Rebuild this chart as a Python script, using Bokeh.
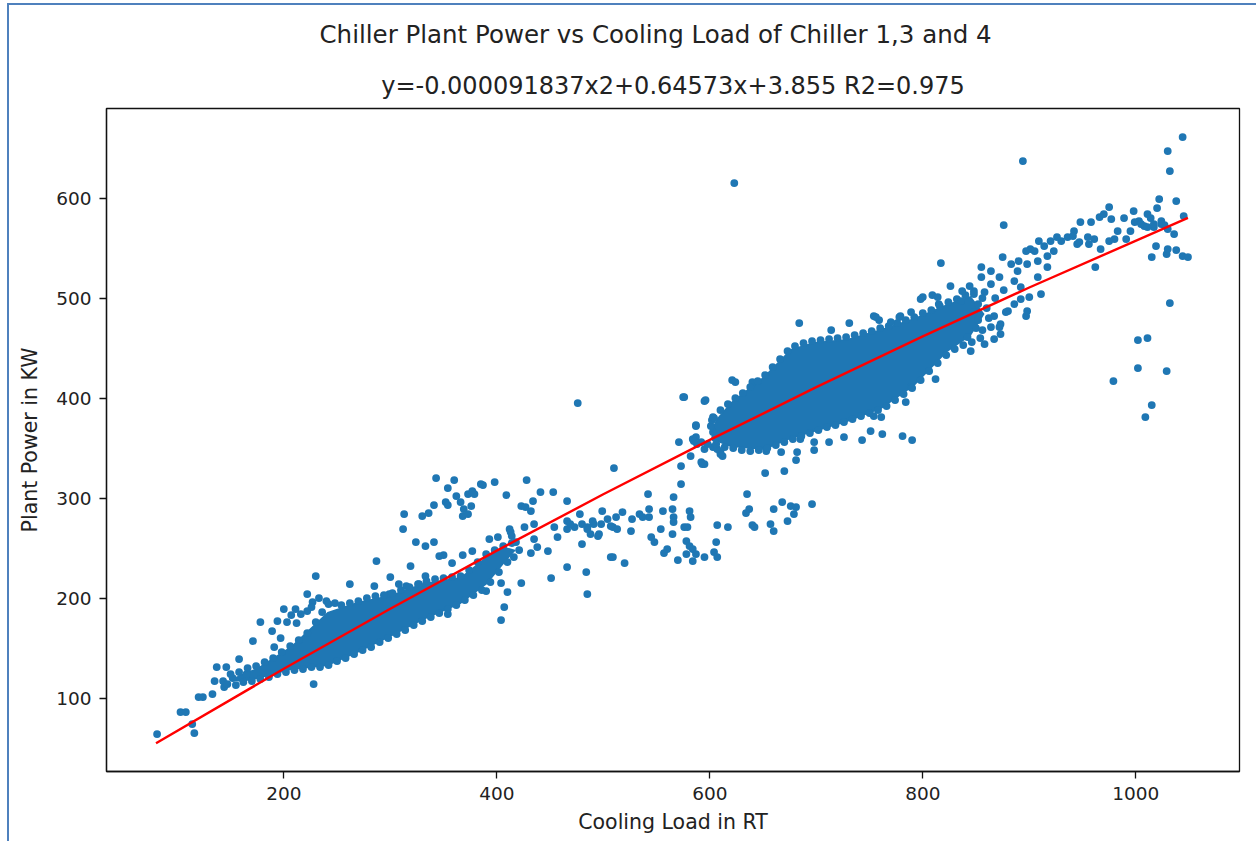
from bokeh.plotting import figure
from bokeh.models import Range1d, FixedTicker, Title
from bokeh.layouts import column
from bokeh.embed import file_html
from bokeh.resources import INLINE

TITLE = "Chiller Plant Power vs Cooling Load of Chiller 1,3 and 4"
SUBTITLE = "y=-0.000091837x2+0.64573x+3.855 R2=0.975"
X_LABEL = "Cooling Load in RT"
Y_LABEL = "Plant Power in KW"
x_ticks = [200, 400, 600, 800, 1000]
y_ticks = [100, 200, 300, 400, 500, 600]

# fitted curve
fit_load_rt = [80, 200, 300, 400, 500, 600, 700, 800, 900, 1049]
fit_power_kw = [54.9, 129.3, 189.3, 247.5, 303.8, 358.2, 410.9, 461.7, 510.6, 580.2]

# solid (saturated) cores of the two point clouds
low_core_rt = [150, 160, 175, 207, 241, 269, 300, 331, 366, 391, 408, 418]
low_core_bottom = [118, 116, 119, 128, 132, 145, 161, 178, 194, 214, 236, 248]
low_core_top = [118, 124, 130, 152, 186, 196, 203, 215, 221, 242, 251, 248]

high_core_rt = [603, 607, 620, 651, 676, 698, 729, 761, 792, 823, 845, 858]
high_core_bottom = [366, 356, 351, 348, 359, 366, 376, 389, 412, 446, 462, 484]
high_core_top = [372, 380, 396, 422, 449, 456, 459, 469, 480, 494, 502, 484]

# individual points (cooling load RT, plant power kW)
low_points = [
    (81, 64), (103, 86), (108, 86), (114, 74), (116, 65), (120, 101), (124, 101), (133, 104),
    (135, 117), (137, 131), (146, 131), (144, 111), (158, 139), (171, 157), (178, 176),
    (200, 189), (211, 189), (222, 204), (230, 222), (227, 196), (222, 187), (194, 177),
    (203, 176), (212, 175), (189, 167), (197, 160), (191, 151), (228, 114), (262, 214),
    (287, 237), (285, 212), (300, 221), (299, 204), (319, 232), (308, 214), (315, 212),
    (327, 214), (333, 222), (324, 256), (333, 252), (341, 256), (346, 242), (313, 284),
    (312, 269), (330, 282), (336, 285), (341, 293), (343, 320), (360, 318), (354, 310),
    (352, 296), (354, 293), (362, 302), (366, 296), (369, 289), (368, 282), (373, 284),
    (376, 292), (373, 304), (377, 307), (379, 304), (385, 314), (387, 313), (398, 316),
    (409, 303), (350, 243), (358, 235), (368, 243), (377, 247), (393, 259), (401, 261),
    (412, 269), (413, 266), (404, 215), (410, 206), (407, 191), (404, 178), (390, 207),
    (354, 184), (233, 200), (240, 197), (226, 191), (216, 184), (207, 183),
    (152, 120), (143, 117), (165, 124), (418, 256), (421, 248), (416, 241), (414, 262),
]
low_lower_edge = [
    (147, 114), (155, 113), (162, 116), (170, 117), (178, 119), (186, 121), (194, 124),
    (202, 126), (210, 128), (218, 129), (226, 131), (234, 131), (242, 133), (250, 137),
    (258, 140), (266, 144), (274, 148), (282, 151), (290, 156), (298, 160), (306, 164),
    (314, 168), (322, 173), (330, 177), (338, 181), (346, 185), (354, 189), (362, 193),
    (370, 198), (378, 203), (386, 208), (394, 216), (402, 226), (410, 236),
]
low_upper_edge = [
    (150, 124), (158, 126), (166, 130), (174, 132), (182, 136), (190, 140), (198, 146),
    (206, 152), (214, 158), (222, 165), (230, 176), (236, 186), (242, 194), (248, 195),
    (254, 193), (262, 195), (270, 197), (278, 200), (286, 202), (294, 203), (302, 205),
    (310, 208), (318, 211), (326, 214), (334, 217), (342, 219), (350, 220), (358, 221),
    (366, 222), (374, 228), (382, 236), (390, 244), (398, 248), (406, 252), (414, 255),
]
mid_points = [
    (428, 318), (441, 306), (453, 306), (466, 297), (434, 297), (423, 292), (427, 291),
    (432, 287), (476, 395), (510, 330), (499, 287), (478, 284), (504, 279), (512, 281),
    (426, 271), (435, 274), (435, 259), (438, 251), (432, 245), (448, 247), (454, 271),
    (457, 261), (466, 277), (466, 269), (473, 271), (480, 274), (485, 269), (488, 264),
    (495, 262), (491, 274), (480, 254), (509, 271), (513, 269), (507, 241), (466, 231),
    (451, 220), (484, 226), (485, 204), (423, 215), (575, 401), (595, 397), (587, 373),
    (571, 356), (573, 332), (573, 314), (542, 304), (566, 301), (518, 286), (534, 284),
    (543, 289), (543, 281), (556, 287), (565, 289), (566, 281), (581, 287), (582, 281),
    (527, 279), (537, 281), (526, 267), (554, 269), (566, 276), (565, 264), (576, 271),
    (579, 271), (607, 273), (617, 271), (635, 304), (637, 289), (634, 285), (640, 273),
    (642, 271), (657, 274), (660, 267), (660, 289), (668, 296), (676, 292), (681, 291),
    (679, 284), (673, 277), (696, 294), (545, 261), (548, 256), (560, 249), (557, 245),
    (578, 257), (581, 252), (584, 249), (578, 244), (584, 237), (587, 244), (570, 238),
    (595, 241), (606, 256), (604, 246), (607, 241), (509, 241), (520, 235), (490, 277),
    (485, 271), (496, 264), (498, 274), (507, 272), (469, 274),
]
high_points = [
    (584, 359), (588, 354), (595, 349), (603, 351), (610, 346), (612, 342), (592, 336),
    (595, 334), (582, 342), (587, 361), (598, 354), (576, 401), (596, 398), (603, 381),
    (587, 372), (585, 357), (592, 356), (593, 334), (610, 344), (607, 349), (682, 346),
    (681, 338), (670, 327), (652, 325), (698, 356), (698, 348), (685, 359), (653, 347),
    (667, 346), (712, 356), (726, 361), (743, 358), (751, 367), (762, 364), (781, 362),
    (790, 358), (754, 382), (761, 381), (784, 396), (789, 411), (812, 419), (623, 615),
    (684, 475), (714, 468), (731, 475), (754, 482), (759, 478), (779, 482), (800, 501),
    (809, 503), (814, 501), (826, 512), (621, 418), (624, 416), (640, 416), (756, 481),
    (778, 481), (789, 486), (798, 499), (603, 366), (601, 372), (605, 360), (602, 378),
]
high_upper_edge = [
    (604, 380), (610, 388), (617, 394), (624, 400), (631, 405), (638, 411), (645, 417),
    (652, 423), (659, 431), (666, 439), (673, 447), (680, 452), (688, 455), (696, 457),
    (704, 458), (712, 459), (720, 460), (728, 461), (736, 463), (744, 465), (752, 467),
    (760, 470), (768, 472), (776, 475), (784, 478), (792, 481), (800, 485), (808, 488),
    (816, 492), (824, 496), (832, 499), (840, 503), (848, 507),
]
high_lower_edge = [
    (606, 354), (614, 351), (622, 350), (630, 348), (638, 347), (646, 348), (654, 350),
    (662, 353), (670, 356), (678, 359), (686, 362), (694, 365), (702, 368), (710, 371),
    (718, 373), (726, 376), (734, 379), (742, 382), (750, 385), (758, 388), (766, 392),
    (774, 398), (782, 404), (790, 410), (798, 418), (806, 427), (814, 435), (822, 443),
    (830, 449), (838, 453), (846, 456), (854, 460),
]
top_points = [
    (1044, 661), (1030, 647), (1032, 627), (894, 637), (876, 573), (817, 535), (1022, 599),
    (1038, 597), (975, 591), (998, 587), (1011, 584), (1020, 590), (989, 580), (1003, 577),
    (1014, 580), (1024, 577), (1027, 573), (1045, 582), (1030, 569), (1036, 564), (1017, 571),
    (1008, 572), (995, 567), (983, 567), (991, 559), (980, 559), (967, 549), (975, 557),
    (956, 554), (962, 531), (1019, 552), (1015, 541), (1029, 544), (1030, 549), (1038, 548),
    (1044, 542), (1049, 541), (1032, 495), (1002, 458), (1011, 460), (1002, 430), (1029, 427),
    (979, 417), (1015, 393), (1009, 381), (897, 482), (948, 576), (958, 576), (966, 581),
    (970, 584), (977, 579), (942, 567), (936, 561), (945, 554), (930, 557), (920, 557),
    (909, 557), (901, 549), (914, 552), (923, 547), (917, 542), (897, 547), (908, 537),
    (917, 531), (898, 534), (889, 527), (875, 541), (883, 534), (864, 527), (855, 531),
    (872, 521), (886, 517), (908, 521), (892, 511), (855, 521), (864, 514), (844, 512),
    (837, 507), (848, 504), (858, 506), (815, 494), (836, 497), (770, 476), (892, 499),
    (900, 501), (911, 504), (898, 487), (867, 482), (872, 471), (880, 487), (886, 494),
    (873, 464), (867, 459), (845, 447), (858, 454), (842, 461), (864, 471), (878, 486),
    (873, 474), (947, 556), (941, 562), (955, 561), (961, 559), (926, 561), (905, 547),
    (890, 537), (999, 576), (1005, 574), (1011, 571), (1017, 574), (1024, 574),
    (860, 490), (868, 500), (876, 508), (852, 478), (856, 468), (848, 486), (852, 494),
    (862, 480), (856, 500), (850, 470),
]

groups = [low_points, low_lower_edge, low_upper_edge, mid_points,
          high_points, high_upper_edge, high_lower_edge, top_points]
load_rt = [pt[0] for g in groups for pt in g]
power_kw = [pt[1] for g in groups for pt in g]

BLUE = "#1f77b4"
FONT = "DejaVu Sans"
TXT = "#222222"

p = figure(width=1247, height=836, output_backend="svg", toolbar_location=None,
           x_range=Range1d(33.5, 1097.4), y_range=Range1d(26.6, 689.6),
           min_border_left=97, min_border_right=17, min_border_top=103, min_border_bottom=70,
           title=TITLE)
p.title.align = "left"
p.title.offset = 213
p.title.text_font = FONT
p.title.text_font_size = "24.5px"
p.title.text_font_style = "normal"
p.title.text_color = TXT
p.title.standoff = 24
p.add_layout(Title(text=SUBTITLE, align="center", text_font=FONT,
                   text_font_size="24px", text_font_style="normal", text_color=TXT,
                   standoff=18), "above")

p.background_fill_color = "white"
p.border_fill_color = "white"
p.xgrid.visible = False
p.ygrid.visible = False
p.outline_line_color = "#111111"
p.outline_line_width = 1.3

p.varea(x=low_core_rt, y1=low_core_bottom, y2=low_core_top, fill_color=BLUE)
p.varea(x=high_core_rt, y1=high_core_bottom, y2=high_core_top, fill_color=BLUE)
p.scatter(load_rt, power_kw, size=7.8, fill_color=BLUE, line_color=BLUE, line_width=0)
p.line(fit_load_rt, fit_power_kw, line_color="#ff0000", line_width=2.4)

for ax in (p.xaxis[0], p.yaxis[0]):
    ax.axis_line_color = "#111111"
    ax.axis_line_width = 1.3
    ax.major_tick_line_color = "#111111"
    ax.major_tick_line_width = 1.3
    ax.major_tick_out = 7
    ax.major_tick_in = 0
    ax.minor_tick_line_color = None
    ax.major_label_text_font = FONT
    ax.major_label_text_font_size = "18.5px"
    ax.major_label_text_color = TXT
    ax.major_label_standoff = 8
    ax.axis_label_text_font = FONT
    ax.axis_label_text_font_size = "20.5px"
    ax.axis_label_text_font_style = "normal"
    ax.axis_label_text_color = TXT

p.xaxis.ticker = FixedTicker(ticks=x_ticks)
p.yaxis.ticker = FixedTicker(ticks=y_ticks)
p.xaxis.axis_label = X_LABEL
p.yaxis.axis_label = Y_LABEL
p.xaxis.axis_label_standoff = 7
p.yaxis.axis_label_standoff = 11

layout = column(p, styles={"margin-left": "7px", "margin-top": "3px",
                           "border-left": "2px solid #4f81bd", "border-top": "2px solid #4f81bd"})

open("out.html", "w").write(file_html(layout, INLINE))
